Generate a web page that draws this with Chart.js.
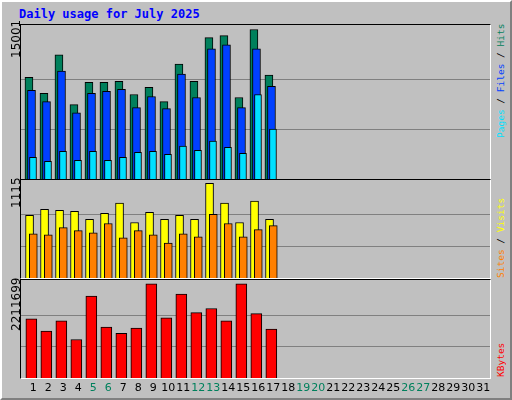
<!DOCTYPE html>
<html>
<head>
<meta charset="utf-8">
<script src="https://cdn.jsdelivr.net/npm/chart.js@4"></script>
<style>
body{margin:0;width:512px;height:400px;overflow:hidden;background:#c0c0c0;font-family:"DejaVu Sans Mono",monospace;}
#frame{position:absolute;left:0;top:0;width:508px;height:396px;border-left:2px solid #fff;border-top:2px solid #fff;border-right:2px solid #808080;border-bottom:2px solid #808080;background:#c0c0c0;}
.panel{position:absolute;left:20px;width:469px;border-left:1px solid #000;border-top:1px solid #000;border-right:1px solid #fff;border-bottom:1px solid #fff;}
.panel canvas{position:absolute;left:0;top:0;}
#title{position:absolute;left:19px;top:7px;color:#0000ff;font-weight:bold;font-size:12px;}
.rot{position:absolute;transform-origin:0 0;transform:rotate(-90deg);white-space:nowrap;font-size:12px;}
.rl{font-size:9.5px;}
.day{position:absolute;top:381px;width:20px;text-align:center;font-family:"DejaVu Sans",sans-serif;font-size:11px;}
</style>
</head>
<body>
<div id="frame"></div>
<div id="title">Daily usage for July 2025</div>
<div class="panel" style="top:24px;height:154px"><canvas id="c1"></canvas></div>
<div class="panel" style="top:179px;height:98px"><canvas id="c2"></canvas></div>
<div class="panel" style="top:279px;height:98px"><canvas id="c3"></canvas></div>
<div class="rot" style="left:9px;top:58px;font-family:'DejaVu Sans',sans-serif">15001</div>
<div class="rot" style="left:9px;top:208px;font-family:'DejaVu Sans',sans-serif">1115</div>
<div class="rot" style="left:9px;top:331px;font-family:'DejaVu Sans',sans-serif">2211699</div>
<div class="rot rl" style="left:495px;top:138px"><span style="color:#00e0ff">Pages</span> / <span style="color:#0040ff">Files</span> / <span style="color:#00805c">Hits</span></div>
<div class="rot rl" style="left:495px;top:278px"><span style="color:#ff8000">Sites</span> / <span style="color:#ffff00">Visits</span></div>
<div class="rot rl" style="left:495px;top:377px"><span style="color:#ff0000">KBytes</span></div>
<div id="days"></div>
<script>
var days = [];
for (var d = 1; d <= 31; d++) days.push(d);
var weekend = [5,6,12,13,19,20,26,27];
var hits   = [10216,8587,12456,7466,9707,9707,9808,8485,9197,7772,11539,9808,14186,14390,8179,15001,10419];
var files  = [8892,7772,10827,6652,8587,8790,8994,7161,8281,7059,10521,8179,13067,13474,7161,13067,9299];
var pages  = [2172,1765,2783,1867,2783,1867,2172,2681,2783,2478,3292,2885,3801,3190,2579,8485,5023];
var visits = [738,810,798,786,690,762,882,654,774,690,738,690,1115,882,654,906,690];
var sites  = [521,509,594,558,533,642,473,558,509,413,521,485,750,642,485,570,618];
var kbytes = [1388000,1098000,1340000,904000,1921000,1195000,1049000,1170000,2211699,1413000,1970000,1534000,1631000,1340000,2211699,1509000,1146000];

function pts(arr, dx){
    var out=[];
    for (var i=0;i<arr.length;i++){ out.push({x:days[i]+dx, y:arr[i]}); }
    return out;
}
function ds(arr, dx, col, w, ord){
    return {data:pts(arr,dx),backgroundColor:col,borderColor:'#000',borderWidth:1,barThickness:w,grouped:false,borderSkipped:'bottom',order:ord};
}
function makeChart(id, w, h, sets, ymax, grid){
    var cv=document.getElementById(id);
    cv.width=w; cv.height=h; cv.style.width=w+'px'; cv.style.height=h+'px';
    new Chart(cv,{type:'bar',data:{datasets:sets},
        options:{responsive:false,animation:false,devicePixelRatio:1,
            layout:{padding:0},
            plugins:{legend:{display:false},tooltip:{enabled:false}},
            scales:{
                x:{type:'linear',offset:false,min:0.18,max:31.45,display:false},
                y:{min:0,max:ymax,border:{display:false},ticks:{display:false},
                   grid:{color:'#808080',lineWidth:1,drawTicks:false},
                   afterBuildTicks:function(ax){ax.ticks=grid.map(function(v){return {value:v};});}}
            }}});
}
makeChart('c1',469,154,[ds(hits,-0.29,'#00805c',8,3),ds(files,-0.12,'#0040ff',8,2),ds(pages,-0.02,'#00e0ff',7,1)],15457,[5000,10000]);
makeChart('c2',469,98,[ds(visits,-0.25,'#ffff00',8,2),ds(sites,0,'#ff8000',8,1)],1155,[372,743]);
makeChart('c3',469,98,[ds(kbytes,-0.13,'#ff0000',11,1)],2299000,[737233,1474466]);

var box=document.getElementById('days');
days.forEach(function(d){
    var s=document.createElement('div');
    s.className='day';
    s.style.left=(33.3+(d-1)*15-10)+'px';
    s.style.color=weekend.indexOf(d)>=0?'#00805c':'#000';
    s.textContent=d;
    box.appendChild(s);
});
</script>
</body>
</html>
